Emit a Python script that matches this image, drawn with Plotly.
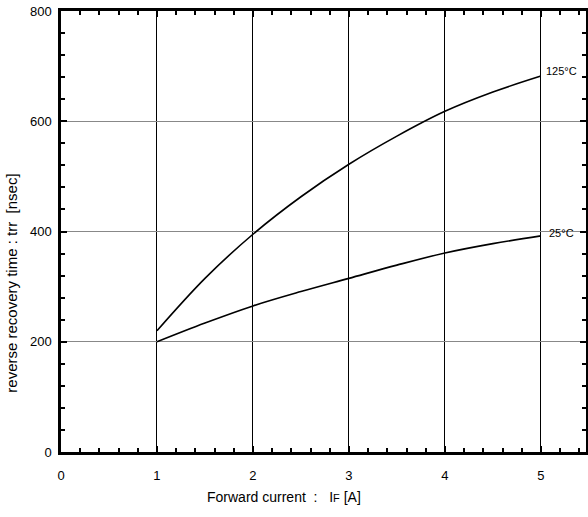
import plotly.graph_objects as go

current = [1, 1.5, 2, 2.5, 3, 3.5, 4, 4.5, 5]
trr_125 = [220, 315, 395, 463, 522, 573, 618, 653, 682]
trr_25 = [200, 234, 265, 291, 315, 339, 361, 378, 392]
x_ticks = [0, 1, 2, 3, 4, 5]
y_ticks = [0, 200, 400, 600, 800]

fig = go.Figure()
fig.add_trace(go.Scatter(x=current, y=trr_125, mode="lines",
                         line=dict(color="black", width=1.6, shape="spline")))
fig.add_trace(go.Scatter(x=current, y=trr_25, mode="lines",
                         line=dict(color="black", width=1.6, shape="spline")))

fig.add_annotation(x=current[-1], y=trr_125[-1], text="125°C", showarrow=False,
                   xanchor="left", yanchor="middle", xshift=3, yshift=5,
                   font=dict(size=11, color="black", family="Liberation Sans"))
fig.add_annotation(x=current[-1], y=trr_25[-1], text="25°C", showarrow=False,
                   xanchor="left", yanchor="middle", xshift=6, yshift=3,
                   font=dict(size=11, color="black", family="Liberation Sans"))

# axis titles as annotations (offset as in the reference)
fig.add_annotation(xref="paper", yref="paper", x=-0.095, y=0.382, text="reverse recovery time : trr  [nsec]",
                   textangle=-90, showarrow=False, xanchor="center", yanchor="middle",
                   font=dict(size=15, color="black", family="Liberation Sans"))
fig.add_annotation(xref="paper", yref="paper", x=0.424, y=-0.102,
                   text="Forward current  :   I<span style='font-size:11px'>F</span> [A]",
                   showarrow=False, xanchor="center", yanchor="middle",
                   font=dict(size=14, color="black", family="Liberation Sans"))

fig.update_layout(
    width=588, height=517,
    margin=dict(l=61, r=2, t=11, b=65),
    paper_bgcolor="white", plot_bgcolor="white",
    showlegend=False,
    font=dict(family="Liberation Sans", color="black", size=13),
)
fig.update_xaxes(
    range=[0, 5.47], tickvals=x_ticks, showgrid=True, gridcolor="black", gridwidth=1,
    showline=True, linecolor="black", linewidth=2.5, mirror="ticks",
    ticks="inside", ticklen=6, tickwidth=2, tickcolor="black",
    minor=dict(dtick=0.2, ticks="inside", ticklen=4, tickwidth=2, tickcolor="black", showgrid=False),
    zeroline=False, ticklabelstandoff=10, automargin=False,
)
fig.update_yaxes(
    range=[0, 800], tickvals=y_ticks, showgrid=True, gridcolor="#888888", gridwidth=1,
    showline=True, linecolor="black", linewidth=2.5, mirror="ticks",
    ticks="inside", ticklen=6, tickwidth=2, tickcolor="black",
    minor=dict(dtick=40, ticks="inside", ticklen=4, tickwidth=2, tickcolor="black", showgrid=False),
    zeroline=False, ticklabelstandoff=4, automargin=False,
)

fig.write_html("out.html", config={"displayModeBar": False},
               post_script="document.body.style.margin='0';")
